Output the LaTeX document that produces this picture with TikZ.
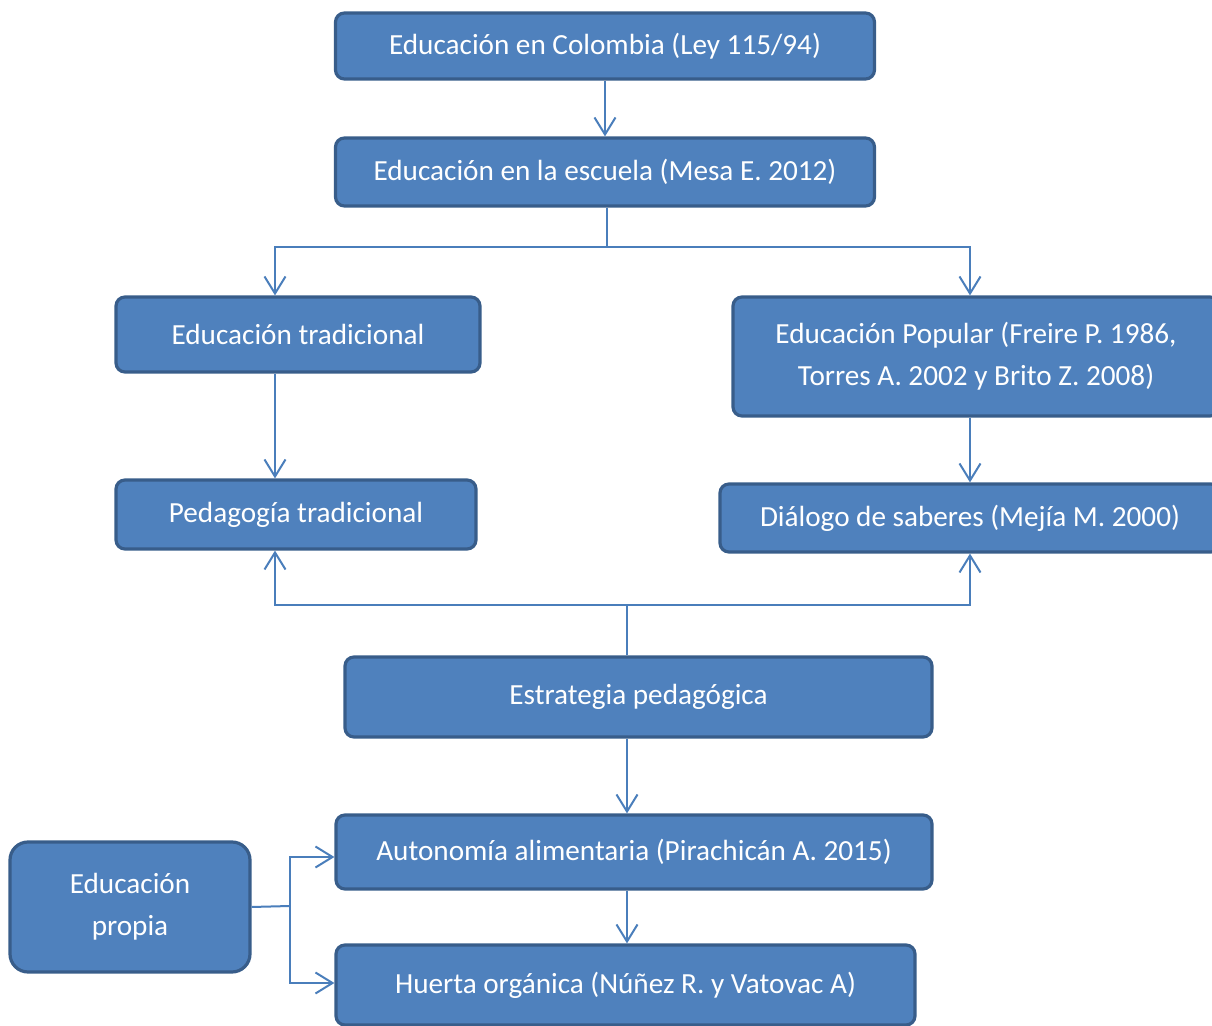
\documentclass[tikz,border=0pt]{standalone}
\usepackage{fontspec}
\setmainfont{Carlito}
\usepackage{tikz}
\usetikzlibrary{arrows.meta, calc}
\definecolor{boxfill}{RGB}{79,129,189}
\definecolor{boxdraw}{RGB}{56,93,138}
\definecolor{linkblue}{RGB}{74,126,187}
\tikzset{
  box/.style={rectangle, draw=boxdraw, fill=boxfill, text=white,
    align=center, rounded corners=4.5pt, line width=1.6pt, inner sep=0pt,
    font=\fontsize{14.6}{21}\selectfont},
  arrow/.style={-{Straight Barb[length=8.5pt, width=10.5pt]}, line width=1pt, color=linkblue},
  line/.style={line width=1pt, color=linkblue}
}
\begin{document}
\begin{tikzpicture}[x=0.5pt, y=-0.5pt]
  \useasboundingbox (0,0) rectangle (1212,1026);
  \clip (0,0) rectangle (1212,1026);
  \node[box, minimum width=269.5pt, minimum height=33pt] (colombia) at (605,46) {Educación en Colombia (Ley 115/94)};
  \node[box, minimum width=269.5pt, minimum height=34pt] (escuela) at (605,172) {Educación en la escuela (Mesa E. 2012)};
  \node[box, minimum width=182pt, minimum height=37.5pt] (tradicional) at (298,334.5) {Educación tradicional};
  \node[box, minimum width=243pt, minimum height=59.5pt] (popular) at (976,356.5) {Educación Popular (Freire P. 1986,\\Torres A. 2002 y Brito Z. 2008)};
  \node[box, minimum width=180pt, minimum height=34.5pt] (pedagogia) at (296,514.5) {Pedagogía tradicional};
  \node[box, minimum width=250pt, minimum height=34pt] (dialogo) at (970,518) {Diálogo de saberes (Mejía M. 2000)};
  \node[box, minimum width=293.5pt, minimum height=40pt] (estrategia) at (638.5,697) {Estrategia pedagógica};
  \node[box, minimum width=298pt, minimum height=37pt] (autonomia) at (634,852) {Autonomía alimentaria (Pirachicán A. 2015)};
  \node[box, minimum width=289.5pt, minimum height=40pt] (huerta) at (625.5,985) {Huerta orgánica (Núñez R. y Vatovac A)};
  \node[box, minimum width=120pt, minimum height=65pt, rounded corners=9pt] (propia) at (130,907) {Educación\\propia};

  \coordinate (lcol) at (275,0);
  \coordinate (rcol) at (970,0);
  \coordinate (mcol) at (627,0);
  \coordinate (split) at (607,247);
  \coordinate (join) at (627,605);
  \coordinate (fork) at (290,906);

  \draw[arrow] (colombia) -- (escuela);
  \draw[line] (escuela.south -| split) -- (split);
  \draw[arrow] (split) -| (lcol |- tradicional.north);
  \draw[arrow] (split) -| (rcol |- popular.north);
  \draw[arrow] (lcol |- tradicional.south) -- (lcol |- pedagogia.north);
  \draw[arrow] (rcol |- popular.south) -- (rcol |- dialogo.north);
  \draw[line] (join |- estrategia.north) -- (join);
  \draw[arrow] (join) -| (lcol |- pedagogia.south);
  \draw[arrow] (join) -| (rcol |- dialogo.south);
  \draw[arrow] (mcol |- estrategia.south) -- (mcol |- autonomia.north);
  \draw[arrow] (mcol |- autonomia.south) -- (mcol |- huerta.north);
  \draw[line] (propia.east) -- (fork);
  \draw[arrow] (fork) |- ([yshift=-2.5pt]autonomia.west);
  \draw[arrow] (fork) |- ([yshift=1pt]huerta.west);
\end{tikzpicture}
\end{document}
